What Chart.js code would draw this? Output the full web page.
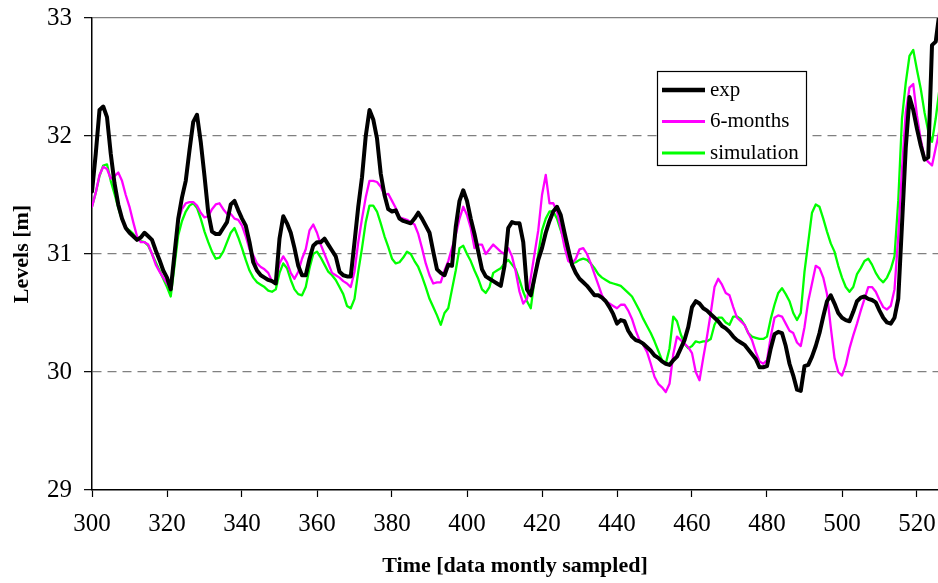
<!DOCTYPE html>
<html>
<head>
<meta charset="utf-8">
<script src="https://cdn.jsdelivr.net/npm/chart.js@4.4.1/dist/chart.umd.min.js"></script>
<style>
  html, body { margin: 0; padding: 0; background: #fff; overflow: hidden; }
  canvas { display: block; }
</style>
</head>
<body>
<canvas id="chartLevels" width="938" height="583"></canvas>
<script>
// valores (muestreo mensual, desde t = 300)
const firstMonth = 300;

const expLevels = [
  31.53, 31.85, 32.22, 32.25, 32.16, 31.85, 31.6, 31.42, 31.3, 31.22,
  31.18, 31.15, 31.12, 31.14, 31.18, 31.15, 31.12, 31.03, 30.95, 30.86,
  30.8, 30.7, 31.0, 31.3, 31.48, 31.62, 31.88, 32.12, 32.18, 31.95,
  31.66, 31.35, 31.19, 31.17, 31.17, 31.22, 31.27, 31.42, 31.45, 31.37,
  31.3, 31.24, 31.1, 30.93, 30.86, 30.82, 30.8, 30.78, 30.77, 30.75,
  31.13, 31.32, 31.26, 31.18, 31.05, 30.9, 30.82, 30.82, 30.96, 31.07,
  31.1, 31.1, 31.13, 31.08, 31.03, 30.98, 30.85, 30.82, 30.81, 30.81,
  31.1, 31.4, 31.65, 32.0, 32.22, 32.14, 31.98, 31.68, 31.5, 31.38,
  31.36, 31.37, 31.3, 31.28, 31.27, 31.26, 31.3, 31.35, 31.3, 31.24,
  31.18, 31.02, 30.87, 30.84, 30.82, 30.91, 30.9, 31.23, 31.45, 31.54,
  31.45, 31.3, 31.17, 31.02, 30.87, 30.81, 30.79, 30.77, 30.75, 30.73,
  30.9, 31.22, 31.27, 31.26, 31.26, 31.1, 30.7, 30.65, 30.8, 30.95,
  31.05, 31.18, 31.28, 31.36, 31.4, 31.33, 31.18, 31.04, 30.91, 30.84,
  30.79, 30.76, 30.73, 30.69, 30.65, 30.65, 30.63, 30.6, 30.55, 30.49,
  30.41, 30.44, 30.43, 30.35, 30.3, 30.27, 30.26, 30.24, 30.21, 30.18,
  30.14, 30.12, 30.09, 30.07, 30.06, 30.1, 30.13, 30.2, 30.27, 30.38,
  30.55, 30.6, 30.58, 30.54, 30.52, 30.49, 30.46, 30.43, 30.39, 30.37,
  30.34, 30.3, 30.27, 30.25, 30.23, 30.19, 30.15, 30.11, 30.04, 30.04,
  30.05, 30.2, 30.32, 30.34, 30.33, 30.22, 30.07, 29.97, 29.85, 29.84,
  30.05, 30.06, 30.13, 30.22, 30.33, 30.47, 30.6, 30.65, 30.58, 30.5,
  30.46, 30.44, 30.43, 30.51, 30.6, 30.63, 30.64, 30.62, 30.61, 30.59,
  30.52, 30.46, 30.42, 30.41, 30.46, 30.62, 31.25, 31.9, 32.33, 32.22,
  32.06, 31.92, 31.8, 31.82, 32.77, 32.8, 33.05
];

const sixMonthLevels = [
  31.4, 31.52, 31.67, 31.74, 31.72, 31.64, 31.66, 31.69, 31.62, 31.5,
  31.4, 31.27, 31.15, 31.1, 31.1, 31.08, 31.0, 30.91, 30.85, 30.8,
  30.75, 30.7, 31.02, 31.28, 31.38, 31.43, 31.44, 31.44, 31.41, 31.35,
  31.31, 31.32, 31.38, 31.42, 31.43, 31.38, 31.34, 31.34, 31.3, 31.29,
  31.24, 31.15, 31.04, 30.99, 30.92, 30.89, 30.87, 30.84, 30.77, 30.77,
  30.92, 30.98, 30.93, 30.84, 30.79, 30.85, 30.96, 31.04, 31.2, 31.25,
  31.18, 31.08, 31.0, 30.92, 30.84, 30.82, 30.8, 30.77, 30.75, 30.72,
  30.85, 31.1, 31.3, 31.48, 31.62, 31.62, 31.61, 31.57, 31.5, 31.51,
  31.45, 31.39, 31.31, 31.3, 31.29, 31.27, 31.25, 31.17, 31.05, 30.92,
  30.82, 30.75, 30.76, 30.76, 30.86, 30.94, 31.05, 31.16, 31.3, 31.4,
  31.33, 31.22, 31.05, 31.08, 31.08, 31.0, 31.04, 31.08, 31.05, 31.02,
  31.0, 31.05, 30.98, 30.85, 30.68, 30.58, 30.62, 30.8, 31.0, 31.2,
  31.5, 31.67, 31.43, 31.43, 31.36, 31.22, 31.06, 30.94, 30.92, 30.96,
  31.04, 31.05, 31.0, 30.92, 30.83, 30.74, 30.65, 30.6, 30.58, 30.56,
  30.54, 30.57, 30.57, 30.52, 30.45, 30.35, 30.27, 30.23, 30.17, 30.07,
  29.96, 29.9, 29.87, 29.83, 29.9, 30.15, 30.3, 30.27, 30.24, 30.21,
  30.16, 30.0, 29.93, 30.12, 30.3, 30.5, 30.72, 30.79, 30.74, 30.67,
  30.65, 30.55, 30.46, 30.43, 30.4, 30.33, 30.27, 30.17, 30.09, 30.07,
  30.1, 30.3, 30.46, 30.48, 30.47, 30.41, 30.35, 30.33, 30.25, 30.22,
  30.38, 30.6, 30.75, 30.9, 30.88, 30.8, 30.66, 30.38, 30.12, 30.0,
  29.97, 30.06, 30.2, 30.31, 30.41, 30.52, 30.62, 30.72, 30.72, 30.68,
  30.61, 30.55, 30.53, 30.56, 30.7, 31.15, 31.72, 32.2, 32.41, 32.44,
  32.17, 31.97, 31.82, 31.78, 31.75, 31.9, 32.05
];

const simLevels = [
  31.4, 31.52, 31.66, 31.75, 31.76, 31.62, 31.51, 31.39, 31.29, 31.22,
  31.2, 31.17, 31.13, 31.11, 31.1, 31.07, 31.0, 30.93, 30.86, 30.79,
  30.72, 30.64, 30.9, 31.16, 31.28, 31.36, 31.41, 31.43, 31.39, 31.3,
  31.19, 31.1, 31.02, 30.96, 30.97, 31.02, 31.1, 31.18, 31.22, 31.14,
  31.05, 30.95, 30.86, 30.8, 30.76, 30.74, 30.72, 30.69, 30.68, 30.7,
  30.84, 30.92, 30.88, 30.78, 30.7, 30.66, 30.65, 30.72, 30.88, 31.0,
  31.02, 30.97, 30.91, 30.85, 30.82, 30.78, 30.72, 30.66, 30.56, 30.54,
  30.62, 30.85, 31.05, 31.27, 31.41, 31.41, 31.36, 31.26, 31.15, 31.06,
  30.96, 30.92, 30.93, 30.97, 31.02, 31.0, 30.94, 30.89, 30.81, 30.72,
  30.62, 30.55, 30.48, 30.4, 30.5, 30.54, 30.7, 30.86, 31.05, 31.07,
  31.0, 30.94, 30.86, 30.79, 30.7, 30.67, 30.72, 30.84, 30.86, 30.88,
  30.92, 30.95, 30.91, 30.87, 30.78, 30.68, 30.6, 30.54, 30.78, 31.0,
  31.2, 31.3, 31.36, 31.36, 31.3, 31.2, 31.11, 31.0, 30.92, 30.93,
  30.95, 30.96, 30.95, 30.92, 30.88, 30.83, 30.8, 30.78, 30.76, 30.75,
  30.74, 30.73, 30.7, 30.67, 30.64, 30.58, 30.52, 30.45, 30.39, 30.33,
  30.26, 30.18, 30.1, 30.07, 30.2, 30.47, 30.43, 30.32, 30.24, 30.2,
  30.22, 30.26, 30.25, 30.26, 30.26, 30.28, 30.4, 30.46, 30.46, 30.42,
  30.4, 30.47, 30.47, 30.45, 30.4, 30.33, 30.3, 30.29, 30.28, 30.28,
  30.3, 30.45, 30.57, 30.67, 30.71, 30.66, 30.6, 30.5, 30.44, 30.5,
  30.85, 31.1, 31.35, 31.42, 31.4, 31.3, 31.19, 31.09, 31.02, 30.9,
  30.8, 30.72, 30.68, 30.72, 30.83, 30.88, 30.94, 30.96, 30.91, 30.84,
  30.79, 30.76, 30.8, 30.87, 30.98, 31.45, 32.15, 32.45, 32.68, 32.73,
  32.56, 32.4, 32.2, 32.04, 31.95, 32.15, 32.4
];

const xTicks = [300, 320, 340, 360, 380, 400, 420, 440, 460, 480, 500, 520];
const yTicks = [29, 30, 31, 32, 33];

const FONT = "'Liberation Serif', 'Times New Roman', serif";

function toPoints(valores) {
  return valores.map((v, i) => ({ x: firstMonth + i, y: v }));
}

// leyenda con recuadro dentro del area del grafico
const leyendaRecuadro = {
  id: "leyendaRecuadro",
  afterDraw(chart) {
    const ctx = chart.ctx;
    const x0 = 657, y0 = 71, w = 149, h = 94;
    ctx.save();
    ctx.fillStyle = "#fff";
    ctx.fillRect(x0, y0, w, h);
    ctx.strokeStyle = "#000";
    ctx.lineWidth = 1.2;
    ctx.strokeRect(x0 + 0.5, y0 + 0.5, w, h);
    ctx.font = "21px " + FONT;
    ctx.textBaseline = "middle";
    chart.data.datasets.forEach((ds, i) => {
      const yy = y0 + 19 + i * 31.5;
      ctx.beginPath();
      ctx.strokeStyle = ds.borderColor;
      ctx.lineWidth = ds.borderWidth + 0.5;
      ctx.moveTo(x0 + 5, yy);
      ctx.lineTo(x0 + 48, yy);
      ctx.stroke();
      ctx.fillStyle = "#000";
      ctx.fillText(ds.label, x0 + 53, yy);
    });
    ctx.restore();
  },
};

new Chart(document.getElementById("chartLevels"), {
  type: "line",
  data: {
    datasets: [
      { label: "exp", data: toPoints(expLevels), borderColor: "#000000", borderWidth: 4 },
      { label: "6-months", data: toPoints(sixMonthLevels), borderColor: "#ff00ff", borderWidth: 2.3 },
      { label: "simulation", data: toPoints(simLevels), borderColor: "#00ff00", borderWidth: 2.3 },
    ],
  },
  options: {
    responsive: false,
    animation: false,
    layout: { padding: { top: 18, right: 0, left: 0, bottom: 0 } },
    elements: {
      point: { radius: 0 },
      line: { tension: 0, borderJoinStyle: "round", borderCapStyle: "round" },
    },
    plugins: {
      legend: { display: false },
      tooltip: { enabled: false },
    },
    scales: {
      x: {
        type: "linear",
        min: 300,
        max: 525.6,
        afterBuildTicks: (scale) => {
          scale.ticks = xTicks.map((v) => ({ value: v }));
        },
        afterFit: (scale) => {
          scale.height = 93;
          scale.paddingLeft = 0;
          scale.paddingRight = 0;
        },
        grid: { drawOnChartArea: false, tickLength: 7, tickColor: "#000", tickWidth: 1.2 },
        border: { color: "#000", width: 1.5 },
        ticks: {
          color: "#000",
          font: { family: FONT, size: 25 },
          padding: 12,
          maxRotation: 0,
          includeBounds: false,
        },
        title: {
          display: true,
          text: "Time [data montly sampled]",
          color: "#000",
          font: { family: FONT, size: 22, weight: "bold" },
          padding: { top: 0, bottom: 3 },
        },
      },
      y: {
        min: 29,
        max: 33,
        afterBuildTicks: (scale) => {
          scale.ticks = yTicks.map((v) => ({ value: v }));
        },
        afterFit: (scale) => {
          scale.width = 92;
          scale.paddingTop = 0;
          scale.paddingBottom = 0;
        },
        grid: {
          color: (c) => (c.tick && c.tick.value === 29 ? "rgba(0,0,0,0)" : "#808080"),
          lineWidth: 1.3,
          tickLength: 8,
          tickColor: "#000",
          tickWidth: 1.2,
        },
        border: {
          color: "#000",
          width: 1.5,
          dash: (c) => (c.tick && c.tick.value < 33 ? [9, 6] : []),
        },
        ticks: {
          color: "#000",
          font: { family: FONT, size: 25 },
          padding: 12,
        },
        title: {
          display: true,
          text: "Levels [m]",
          color: "#000",
          font: { family: FONT, size: 22, weight: "bold" },
          padding: { top: 9, bottom: 0 },
        },
      },
    },
  },
  plugins: [leyendaRecuadro],
});
</script>
</body>
</html>
